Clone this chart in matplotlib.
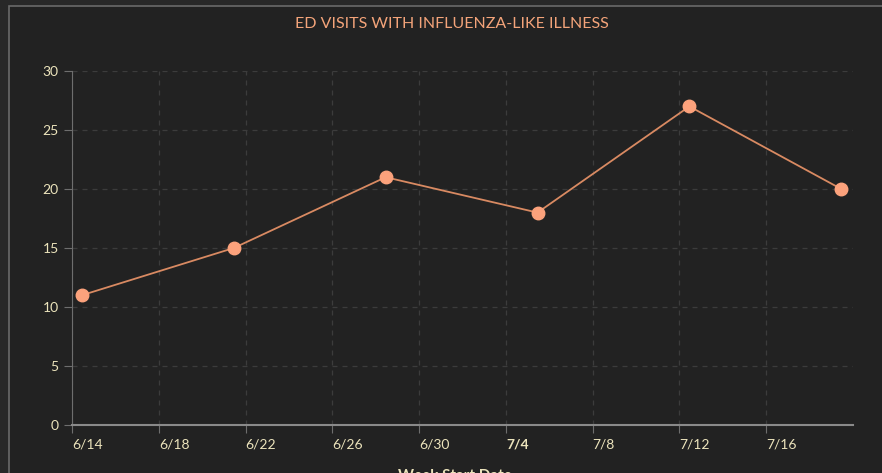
import matplotlib.pyplot as plt
import matplotlib.transforms as mtransforms
import datetime as dt
from matplotlib.patches import Rectangle

plt.rcParams['font.family'] = ['Lato', 'DejaVu Sans']

# weekly start dates (points sit a bit after midnight in the source)
week_start = ['2020-06-14 11:00', '2020-06-21 11:00', '2020-06-28 11:00',
              '2020-07-05 11:00', '2020-07-12 11:00', '2020-07-19 11:00']
visits = [11, 15, 21, 18, 27, 20]
tick_dates = ['2020-06-14', '2020-06-18', '2020-06-22', '2020-06-26', '2020-06-30',
              '2020-07-04', '2020-07-08', '2020-07-12', '2020-07-16']
tick_labels = ['6/14', '6/18', '6/22', '6/26', '6/30', '7/4', '7/8', '7/12', '7/16']

x = [dt.datetime.strptime(d, '%Y-%m-%d %H:%M') for d in week_start]
ticks = [dt.datetime.strptime(d, '%Y-%m-%d') for d in tick_dates]

W, H = 882, 473
fig = plt.figure(figsize=(W / 100, H / 100), dpi=100)
fig.patch.set_facecolor('#282828')
# inner panel with border line on left/top
fig.patches.append(Rectangle((9 / W, -0.1), 1.0, 1 - 6 / H + 0.1, transform=fig.transFigure,
                             facecolor='#222222', edgecolor='#6a6a6a', linewidth=1.2, zorder=0))

ax = fig.add_axes([72 / W, 48 / H, (853 - 72) / W, (425 - 71) / H])
ax.set_zorder(2)
ax.set_facecolor('#222222')

ax.plot(x, visits, color='#d98a62', linewidth=1.3, zorder=3)
ax.plot(x, visits, 'o', color='#fca27c', markersize=9, zorder=4)

ax.set_ylim(0, 30)
ax.set_yticks([0, 5, 10, 15, 20, 25, 30])
ax.set_xlim(dt.datetime(2020, 6, 14), dt.datetime(2020, 7, 20))
ax.set_xticks(ticks)
ax.set_xticklabels(tick_labels, ha='left')
ax.get_xticklabels()[5].set_fontweight('bold')
shift = mtransforms.ScaledTranslation(2 / 100, 0, fig.dpi_scale_trans)
for lab in ax.get_xticklabels():
    lab.set_transform(lab.get_transform() + shift)

ax.grid(True, color='#3c3c3c', linestyle=(0, (4, 4)), linewidth=0.9)
for s in ['top', 'right']:
    ax.spines[s].set_visible(False)
ax.spines['left'].set_color('#6e6e6e')
ax.spines['bottom'].set_color('#8a8a8a')
ax.spines['bottom'].set_linewidth(1.5)
ax.tick_params(axis='both', colors='#6e6e6e', labelcolor='#ece4bc', labelsize=10, length=6)
ax.tick_params(axis='x', pad=4)

fig.text(452 / W, 1 - 24 / H, 'ED VISITS WITH INFLUENZA-LIKE ILLNESS', color='#f4a47a',
         fontsize=11.5, ha='center', va='center', zorder=3)
fig.text(455 / W, 1 - 476 / H, 'Week Start Date', color='#ece4bc', fontsize=11,
         ha='center', va='center', fontweight='bold', zorder=3)

fig.savefig('out.png', dpi=100, facecolor=fig.get_facecolor())
